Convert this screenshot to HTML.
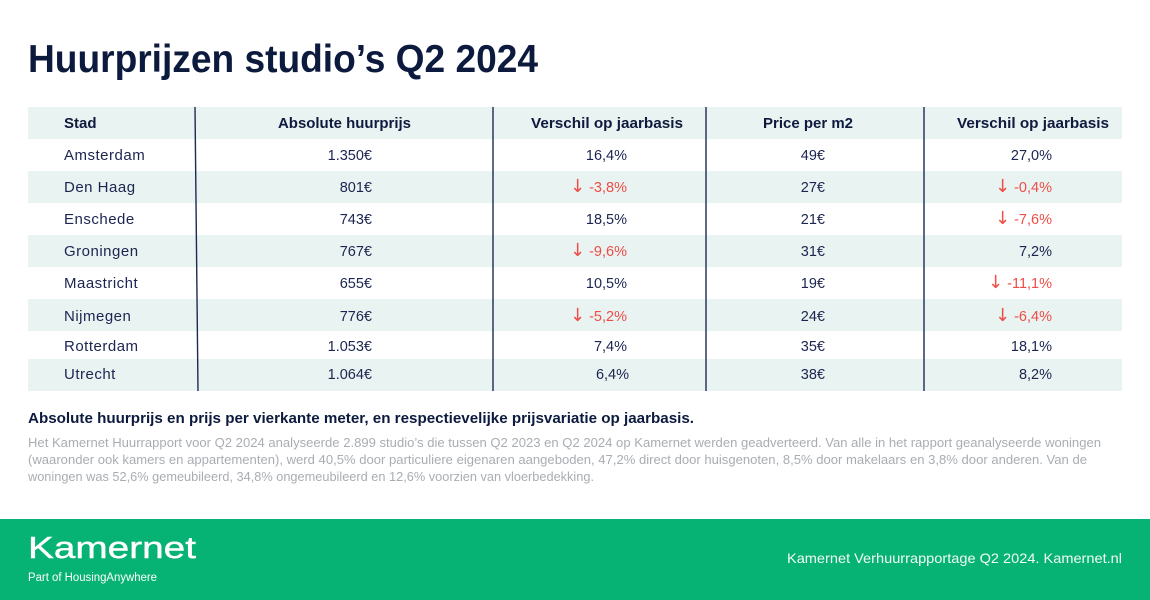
<!DOCTYPE html>
<html><head><meta charset="utf-8"><style>
html,body{margin:0;padding:0;background:#fff;}
svg{display:block;}
text{font-family:"Liberation Sans",sans-serif;}
</style></head><body>
<svg width="1150" height="600" viewBox="0 0 1150 600" xmlns="http://www.w3.org/2000/svg">
<rect x="0" y="0" width="1150" height="600" fill="#ffffff"/>
<!-- Title -->
<text x="28" y="72" font-size="39" font-weight="bold" fill="#0c1a3e" textLength="510" lengthAdjust="spacingAndGlyphs">Huurprijzen studio’s Q2 2024</text>

<!-- shaded rows -->
<g fill="#e9f3f1">
<rect x="28" y="107" width="1094" height="32"/>
<rect x="28" y="171" width="1094" height="32"/>
<rect x="28" y="235" width="1094" height="32"/>
<rect x="28" y="299" width="1094" height="32"/>
<rect x="28" y="359" width="1094" height="32"/>
</g>

<!-- dividers -->
<g stroke="#1d2a55" stroke-width="1.4">
<line x1="195" y1="107" x2="198" y2="391"/>
<line x1="493" y1="107" x2="493" y2="391"/>
<line x1="706" y1="107" x2="706" y2="391"/>
<line x1="924" y1="107" x2="924" y2="391"/>
</g>

<!-- header -->
<g font-size="15" font-weight="bold" fill="#0f1a3e">
<text x="64" y="128">Stad</text>
<text x="278" y="128" textLength="133" lengthAdjust="spacingAndGlyphs">Absolute huurprijs</text>
<text x="531" y="128" textLength="152" lengthAdjust="spacingAndGlyphs">Verschil op jaarbasis</text>
<text x="763" y="128" textLength="90" lengthAdjust="spacingAndGlyphs">Price per m2</text>
<text x="957" y="128" textLength="152" lengthAdjust="spacingAndGlyphs">Verschil op jaarbasis</text>
</g>

<!-- city names -->
<g font-size="15" fill="#1b2550" letter-spacing="0.5">
<text x="64" y="160">Amsterdam</text>
<text x="64" y="192">Den Haag</text>
<text x="64" y="224">Enschede</text>
<text x="64" y="256">Groningen</text>
<text x="64" y="288">Maastricht</text>
<text x="64" y="321">Nijmegen</text>
<text x="64" y="351">Rotterdam</text>
<text x="64" y="379">Utrecht</text>
</g>

<!-- col 2 -->
<g font-size="14.5" fill="#1b2550" text-anchor="end">
<text x="372" y="160">1.350€</text>
<text x="372" y="192">801€</text>
<text x="372" y="224">743€</text>
<text x="372" y="256">767€</text>
<text x="372" y="288">655€</text>
<text x="372" y="321">776€</text>
<text x="372" y="351">1.053€</text>
<text x="372" y="379">1.064€</text>
</g>

<!-- col 3 -->
<g font-size="14.5" fill="#1b2550" text-anchor="end">
<text x="627" y="160">16,4%</text>
<text x="627" y="192" fill="#ef4d47"><tspan font-size="18" font-family="DejaVu Sans, sans-serif">↓</tspan> -3,8%</text>
<text x="627" y="224">18,5%</text>
<text x="627" y="256" fill="#ef4d47"><tspan font-size="18" font-family="DejaVu Sans, sans-serif">↓</tspan> -9,6%</text>
<text x="627" y="288">10,5%</text>
<text x="627" y="321" fill="#ef4d47"><tspan font-size="18" font-family="DejaVu Sans, sans-serif">↓</tspan> -5,2%</text>
<text x="627" y="351">7,4%</text>
<text x="629" y="379">6,4%</text>
</g>

<!-- col 4 -->
<g font-size="14.5" fill="#1b2550" text-anchor="end">
<text x="825" y="160">49€</text>
<text x="825" y="192">27€</text>
<text x="825" y="224">21€</text>
<text x="825" y="256">31€</text>
<text x="825" y="288">19€</text>
<text x="825" y="321">24€</text>
<text x="825" y="351">35€</text>
<text x="825" y="379">38€</text>
</g>

<!-- col 5 -->
<g font-size="14.5" fill="#1b2550" text-anchor="end">
<text x="1052" y="160">27,0%</text>
<text x="1052" y="192" fill="#ef4d47"><tspan font-size="18" font-family="DejaVu Sans, sans-serif">↓</tspan> -0,4%</text>
<text x="1052" y="224" fill="#ef4d47"><tspan font-size="18" font-family="DejaVu Sans, sans-serif">↓</tspan> -7,6%</text>
<text x="1052" y="256">7,2%</text>
<text x="1052" y="288" fill="#ef4d47"><tspan font-size="18" font-family="DejaVu Sans, sans-serif">↓</tspan> -11,1%</text>
<text x="1052" y="321" fill="#ef4d47"><tspan font-size="18" font-family="DejaVu Sans, sans-serif">↓</tspan> -6,4%</text>
<text x="1052" y="351">18,1%</text>
<text x="1052" y="379">8,2%</text>
</g>

<!-- subtitle -->
<text x="28" y="423" font-size="15" font-weight="bold" fill="#0c1a3e" textLength="666" lengthAdjust="spacingAndGlyphs">Absolute huurprijs en prijs per vierkante meter, en respectievelijke prijsvariatie op jaarbasis.</text>

<!-- paragraph -->
<g font-size="12.5" fill="#a9adb3">
<text x="28" y="447" textLength="1073" lengthAdjust="spacingAndGlyphs">Het Kamernet Huurrapport voor Q2 2024 analyseerde 2.899 studio’s die tussen Q2 2023 en Q2 2024 op Kamernet werden geadverteerd. Van alle in het rapport geanalyseerde woningen</text>
<text x="28" y="464" textLength="1059" lengthAdjust="spacingAndGlyphs">(waaronder ook kamers en appartementen), werd 40,5% door particuliere eigenaren aangeboden, 47,2% direct door huisgenoten, 8,5% door makelaars en 3,8% door anderen. Van de</text>
<text x="28" y="481" textLength="566" lengthAdjust="spacingAndGlyphs">woningen was 52,6% gemeubileerd, 34,8% ongemeubileerd en 12,6% voorzien van vloerbedekking.</text>
</g>

<!-- footer -->
<rect x="0" y="519" width="1150" height="81" fill="#07b374"/>
<text x="28" y="558" font-size="31" fill="#ffffff" stroke="#ffffff" stroke-width="0.4" textLength="168" lengthAdjust="spacingAndGlyphs">Kamernet</text>
<text x="28" y="581" font-size="11.5" fill="#ffffff" textLength="129" lengthAdjust="spacingAndGlyphs">Part of HousingAnywhere</text>
<text x="787" y="563" font-size="14" fill="#f2fbf6" textLength="335" lengthAdjust="spacingAndGlyphs">Kamernet Verhuurrapportage Q2 2024. Kamernet.nl</text>
</svg>
</body></html>
